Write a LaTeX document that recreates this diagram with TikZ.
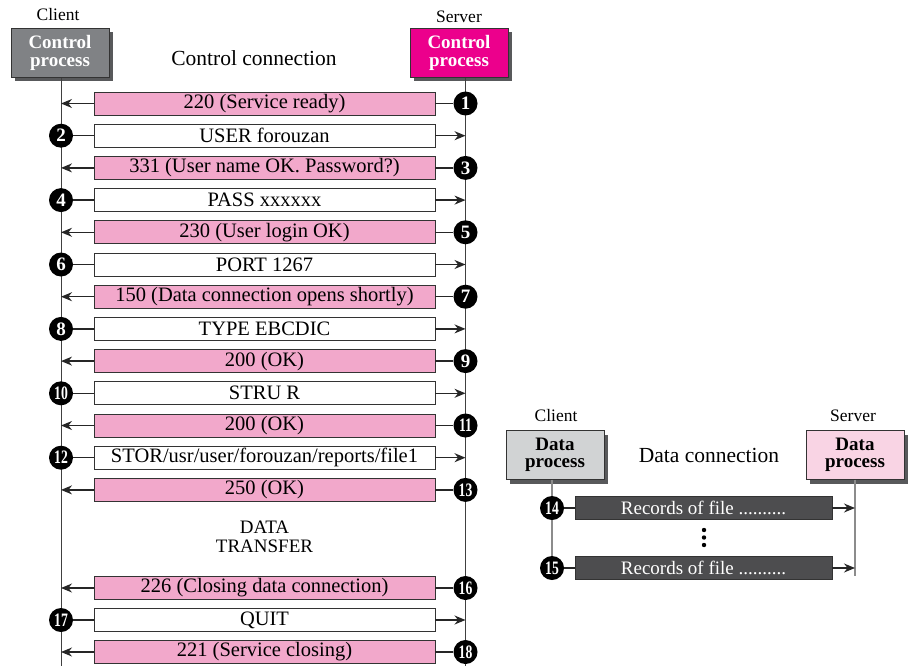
\documentclass[tikz,border=0pt]{standalone}
\usepackage{fontspec}
\setmainfont{Liberation Serif}
\usetikzlibrary{shadows,arrows.meta}
\definecolor{ctlgray}{HTML}{808285}
\definecolor{magen}{HTML}{EC008C}
\definecolor{lgray}{HTML}{D1D3D4}
\definecolor{lpink}{HTML}{F9D4E4}
\definecolor{msgpink}{HTML}{F2A8CB}
\definecolor{dgray}{HTML}{4D4D4F}
\definecolor{shad}{HTML}{58595B}
\tikzset{
  hdr/.style={draw=black!80, line width=0.8pt, minimum width=98pt, minimum height=49pt, inner sep=0pt,
    align=center, font=\fontsize{19}{17.5}\selectfont\bfseries,
    drop shadow={shadow xshift=4pt, shadow yshift=-4pt, fill=shad, opacity=1}},
  msgbox/.style={draw=black!80, line width=0.8pt, minimum width=341pt, minimum height=23pt, inner sep=0pt,
    font=\fontsize{20.5}{20}\selectfont},
  srvbox/.style={msgbox, fill=msgpink},
  clibox/.style={msgbox, fill=white},
  databox/.style={draw=black!80, line width=0.8pt, fill=dgray, text=white, minimum width=257pt, minimum height=23pt,
    inner sep=0pt, font=\fontsize{19}{20}\selectfont},
  numc/.style={circle, fill=black, text=white, minimum size=24pt, inner sep=0pt, font=\fontsize{19}{19}\selectfont\bfseries},
  conn/.style={line width=1.3pt, black!85},
  arr/.style={line width=1.3pt, black!85, -{Stealth[length=11pt,width=9pt]}},
  vline/.style={line width=1pt, black!75},
  dline/.style={line width=1.2pt, black!45},
  lbl/.style={font=\fontsize{17.5}{17}\selectfont, inner sep=0pt},
  ttl/.style={font=\fontsize{21.5}{20}\selectfont, inner sep=0pt}
}
\newcommand{\nm}[1]{\ifnum#1>9 \scalebox{0.72}[1]{#1}\else #1\fi}
\newcommand{\srvmsg}[3]{%
  \node[srvbox] (m#1) at (264.5,#2) {#3};
  \coordinate (a#1) at (61,#2);
  \node[numc] (n#1) at (465.5,#2) {\nm{#1}};
  \draw[conn] (n#1) -- (m#1);
  \draw[arr] (m#1) -- (a#1);
}
\newcommand{\climsg}[3]{%
  \node[clibox] (m#1) at (264.5,#2) {#3};
  \coordinate (a#1) at (465.5,#2);
  \node[numc] (n#1) at (61,#2) {\nm{#1}};
  \draw[conn] (n#1) -- (m#1);
  \draw[arr] (m#1) -- (a#1);
}
\begin{document}
\begin{tikzpicture}[x=1pt,y=-1pt]
\useasboundingbox (0,0) rectangle (909,666);
% headers
\node[lbl] (clab) at (58,15) {Client};
\node[lbl] (slab) at (459,17) {Server};
\node[hdr, fill=ctlgray, text=white] (cctl) at (60,53) {Control\\process};
\node[hdr, fill=magen, text=white] (sctl) at (459,53) {Control\\process};
\node[ttl] (cc) at (254,58) {Control connection};
% vertical lines
\coordinate (ctop) at (61,78);
\coordinate (cbot) at (61,666);
\coordinate (stop) at (465.5,78);
\coordinate (sbot) at (465.5,666);
\draw[vline] (ctop) -- (cbot);
\draw[vline] (stop) -- (sbot);
% messages
\srvmsg{1}{103.5}{220 (Service ready)}
\climsg{2}{135.7}{USER forouzan}
\srvmsg{3}{167.9}{331 (User name OK. Password?)}
\climsg{4}{200.1}{PASS xxxxxx}
\srvmsg{5}{232.3}{230 (User login OK)}
\climsg{6}{264.5}{PORT 1267}
\srvmsg{7}{296.7}{150 (Data connection opens shortly)}
\climsg{8}{328.9}{TYPE EBCDIC}
\srvmsg{9}{361.1}{200 (OK)}
\climsg{10}{393.3}{STRU R}
\srvmsg{11}{425.5}{200 (OK)}
\climsg{12}{457.7}{STOR/usr/user/forouzan/reports/file1}
\srvmsg{13}{489.9}{250 (OK)}
\node[font=\fontsize{19}{18.5}\selectfont, align=center, inner sep=0pt] (dt) at (264.5,537) {DATA\\TRANSFER};
\srvmsg{16}{588}{226 (Closing data connection)}
\climsg{17}{620}{QUIT}
\srvmsg{18}{652}{221 (Service closing)}
% data connection
\node[lbl] (dclab) at (556,416) {Client};
\node[lbl] (dslab) at (853,416) {Server};
\node[hdr, fill=lgray, text=black] (cdat) at (555,455) {Data\\process};
\node[hdr, fill=lpink, text=black] (sdat) at (855,455) {Data\\process};
\node[ttl] (dc) at (709,455) {Data connection};
\coordinate (dstop) at (855,479.5);
\coordinate (dsbot) at (855,576);
\draw[dline] (dstop) -- (dsbot);
\node[databox] (r14) at (703.5,508) {Records of file ..........};
\node[databox] (r15) at (703.5,568) {Records of file ..........};
\node[numc] (n14) at (552,508) {\nm{14}};
\node[numc] (n15) at (552,568) {\nm{15}};
\coordinate (cdbot) at (552,479.5);
\draw[dline] (cdbot) -- (n14);
\draw[dline] (n14) -- (n15);
\coordinate (e14) at (855,508);
\coordinate (e15) at (855,568);
\draw[conn] (n14) -- (r14);
\draw[conn] (n15) -- (r15);
\draw[arr] (r14) -- (e14);
\draw[arr] (r15) -- (e15);
\fill (704,530) circle (2.2pt) (704,537.5) circle (2.2pt) (704,545) circle (2.2pt);
\end{tikzpicture}
\end{document}
